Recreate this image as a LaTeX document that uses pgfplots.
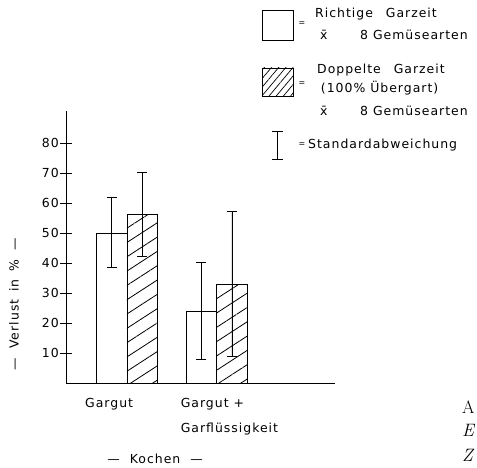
\documentclass[border=0pt]{standalone}
\usepackage{fontspec}
\usepackage{pgfplots}
\pgfplotsset{compat=1.18}
\usetikzlibrary{patterns.meta}
\newfontfamily\sans[LetterSpace=8]{DejaVu Sans}
\newcommand\f{\sans\fontsize{12.5}{15}\selectfont}
\begin{document}
\begin{tikzpicture}[line width=0.8bp]
\useasboundingbox (0,0) rectangle (477bp,468bp);
\begin{axis}[
  at={(66bp,85bp)}, anchor=origin,
  x=3bp, y=3bp,
  xmin=0, xmax=89.7, ymin=0, ymax=90.7,
  axis lines*=left,
  axis line style={line width=0.8bp},
  clip=false,
  ytick={10,20,...,80},
  tick align=center,
  major tick length=12bp,
  ytick style={line width=0.8bp, black},
  xtick={6.33,38.2},
  xticklabels={Gargut,{Gargut +\\[10.5bp]Garflüssigkeit}},
  xtick style={draw=none},
  xticklabel style={font=\f, anchor=north west, align=left, yshift=-9bp, inner sep=0pt},
  yticklabel style={font=\f, anchor=east, inner sep=0pt, xshift=-1bp},
  /pgf/number format/assume math mode=true,
  ylabel={—\hspace{9bp}Verlust\hspace{3bp} in\hspace{3bp} \%\hspace{9bp}—},
  ylabel style={font=\f, at={(axis description cs:-0.193,0.29)}, anchor=center, rotate=0},
  xlabel={—\hspace{10bp}Kochen\hspace{10bp}—},
  xlabel style={font=\f, at={(axis description cs:0.331,-0.279)}, anchor=center},
  error bars/error bar style={line width=0.8bp, black},
  error bars/error mark options={rotate=90, mark size=5bp, line width=0.8bp, black},
]
% Richtige Garzeit
\addplot[ybar, bar width=10.2, bar shift=0pt, fill=white, draw=black, line width=0.8bp,
  error bars/.cd, y dir=both, y explicit]
  coordinates {(15.2,50) += (0,11.8) -= (0,11.6)
               (45.1,23.8) += (0,16.4) -= (0,15.9)};
% Doppelte Garzeit
\addplot[ybar, bar width=10.2, bar shift=0pt, draw=black, line width=0.8bp,
  pattern={Lines[angle=33, distance=12bp, line width=0.8bp]}, pattern color=black,
  error bars/.cd, y dir=both, y explicit]
  coordinates {(25.4,56.1) += (0,14.2) -= (0,14.0)
               (55.3,32.9) += (0,24.4) -= (0,23.9)};
\end{axis}
% legend
\draw[line width=0.8bp] (262.7bp,427.3bp) rectangle (293.3bp,457.3bp);
\node[font=\f, anchor=center] at (302bp,444bp) {\fontsize{8}{8}\selectfont =};
\node[font=\f, anchor=west, inner sep=0pt] at (315bp,454bp) {Richtige\hspace{8bp} Garzeit};
\node[font=\f, anchor=west, inner sep=0pt] at (320bp,433bp) {\={x}};
\node[font=\f, anchor=west, inner sep=0pt] at (360bp,433bp) {8 Gemüsearten};
\draw[line width=0.8bp, pattern={Lines[angle=50, distance=5.5bp, line width=0.7bp]}, pattern color=black] (262.7bp,371.3bp) rectangle (293.3bp,400bp);
\node[font=\f, anchor=center] at (302bp,384bp) {\fontsize{8}{8}\selectfont =};
\node[font=\f, anchor=west, inner sep=0pt] at (317bp,398bp) {Doppelte\hspace{8bp} Garzeit};
\node[font=\f, anchor=west, inner sep=0pt] at (320.7bp,380bp) {(100\% Übergart)};
\node[font=\f, anchor=west, inner sep=0pt] at (320bp,357bp) {\={x}};
\node[font=\f, anchor=west, inner sep=0pt] at (360bp,357bp) {8 Gemüsearten};
\draw[line width=0.8bp] (277.7bp,309bp) -- (277.7bp,336.3bp)
  (272.2bp,309bp) -- (283.2bp,309bp) (272.2bp,336.3bp) -- (283.2bp,336.3bp);
\node[font=\f, anchor=center] at (302bp,323bp) {\fontsize{8}{8}\selectfont =};
\node[font=\f, anchor=west, inner sep=0pt] at (308bp,323bp) {Standardabweichung};
% neighbouring text at the right edge
\node[anchor=west, inner sep=0pt, font=\fontsize{18}{18}\selectfont] at (462bp,61bp) {A};
\node[anchor=west, inner sep=0pt, font=\fontsize{18}{18}\selectfont\itshape] at (462bp,38bp) {E};
\node[anchor=west, inner sep=0pt, font=\fontsize{18}{18}\selectfont\itshape] at (462bp,13bp) {Z};
\end{tikzpicture}
\end{document}
